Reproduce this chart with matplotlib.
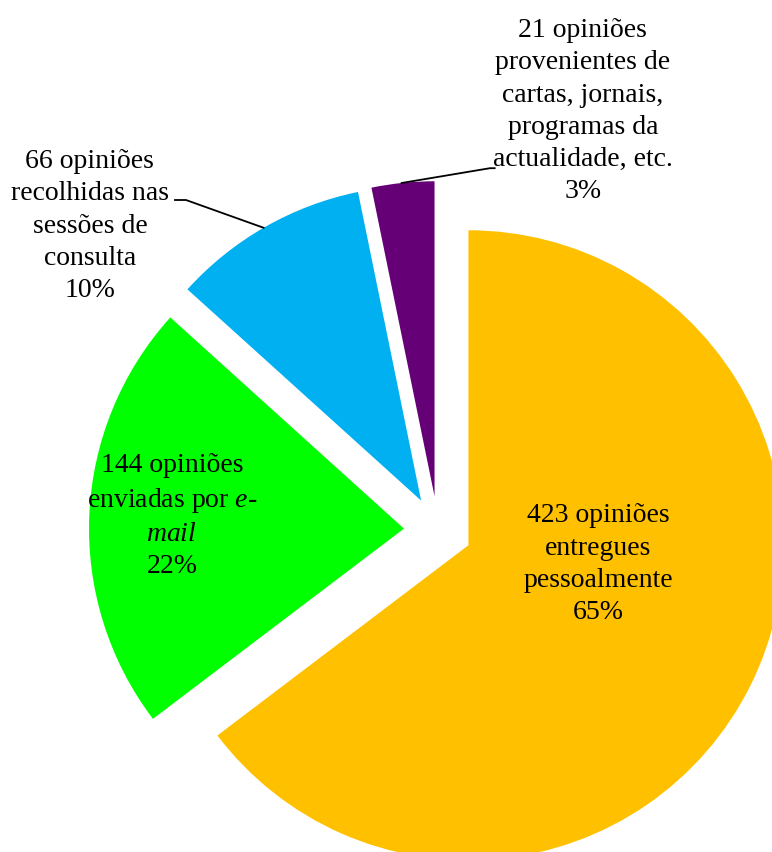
import numpy as np
import matplotlib.pyplot as plt

plt.rcParams['font.family'] = ['Liberation Serif', 'DejaVu Serif']
plt.rcParams['mathtext.fontset'] = 'custom'
plt.rcParams['mathtext.rm'] = 'Liberation Serif'
plt.rcParams['mathtext.it'] = 'Liberation Serif:italic'

counts = [423, 144, 66, 21]
descr = ['opiniões\nentregues\npessoalmente',
         'opiniões\nenviadas por $\\it{e}$-\n$\\it{mail}$',
         'opiniões\nrecolhidas nas\nsessões de\nconsulta',
         'opiniões\nprovenientes de\ncartas, jornais,\nprogramas da\nactualidade, etc.']
colors = ['#FFC000', '#00FF00', '#00B0F0', '#660077']

total = sum(counts)
expl = 0.108

fig = plt.figure(figsize=(7.72, 8.52), dpi=100)
ax = fig.add_axes([0, 0, 1, 1])
wedges, _ = ax.pie(counts, colors=colors, startangle=90, counterclock=False,
                   explode=[expl] * len(counts), radius=1.0,
                   wedgeprops=dict(linewidth=0))
ax.set_xlim(-1.390, 1.060)
ax.set_ylim(-1.022, 1.683)
ax.set_aspect('equal')
ax.axis('off')


def label(i):
    pct = round(100 * counts[i] / total)
    return f'{counts[i]} {descr[i]}\n{pct}%'


fs = 20
ls = 1.38
# orange and green labels sit inside their wedges
ax.text(0.508, -0.108, label(0), ha='center', va='center', fontsize=fs, linespacing=ls)
ax.text(-0.845, 0.045, label(1), ha='center', va='center', fontsize=fs, linespacing=ls)
# blue and purple labels outside, with leader lines
ax.text(-1.105, 0.965, label(2), ha='center', va='center', fontsize=fs, linespacing=ls)
ax.text(0.46, 1.33, label(3), ha='center', va='center', fontsize=fs, linespacing=ls)


def arc_point(w, ang):
    cx, cy = w.center
    a = np.radians(ang)
    return cx + w.r * np.cos(a), cy + w.r * np.sin(a)


bx, by = arc_point(wedges[2], 120)
ax.plot([-0.835, -0.80, bx], [1.048, 1.048, by], color='black', lw=1.3)
px, py = arc_point(wedges[3], 96)
ax.plot([px, 0.165, 0.18], [py, 1.149, 1.149], color='black', lw=1.3)

fig.savefig('out.png', dpi=100)
